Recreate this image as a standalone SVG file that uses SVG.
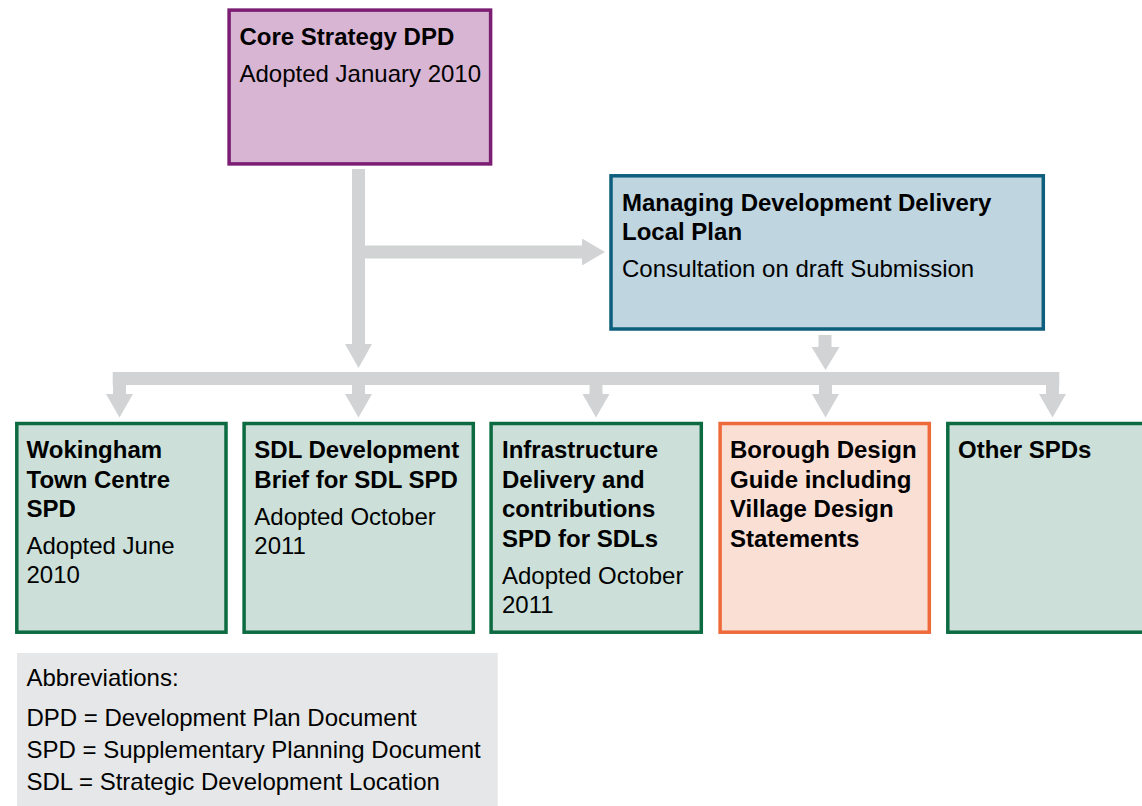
<svg xmlns="http://www.w3.org/2000/svg" xmlns:xlink="http://www.w3.org/1999/xlink" width="1142" height="806" viewBox="0 0 1142 806">
  <style>
    text { font-family: "Liberation Sans", Arial, sans-serif; font-size: 24px; fill: #000; }
    .b { font-weight: bold; }
    .box { stroke-width: 3.5; }
    .core { fill: #D8B5D3; stroke: #7B1D73; }
    .mdd { fill: #BFD5E0; stroke: #0E5E7D; }
    .spd { fill: #CCE0D9; stroke: #0D6B42; }
    .guide { fill: #FADFD5; stroke: #EF6A3A; }
    .conn { fill: #D1D3D4; }
  </style>
  <defs>
    <!-- downward block arrow, origin at top centre of the shaft -->
    <path id="down" d="M-6.5,-1 H6.5 V9 H13.5 L0,32.5 L-13.5,9 H-6.5 Z"/>
  </defs>

  <!-- connectors -->
  <g id="connectors" class="conn">
    <!-- Core Strategy: down to the bus, branch right to the Local Plan -->
    <path d="M352,169 H365 V245.5 H582 V238.5 L605,252 L582,265.5 V258.5 H365 V344 H372 L358.5,368 L345,344 H352 Z"/>
    <!-- Local Plan down to the bus -->
    <path d="M818.5,335 H831.5 V347 H839.5 L825.5,370 L811.5,347 H818.5 Z"/>
    <!-- distribution bus -->
    <rect x="112.7" y="372" width="946.6" height="13"/>
    <use xlink:href="#down" x="119.5" y="385"/>
    <use xlink:href="#down" x="358.5" y="385"/>
    <use xlink:href="#down" x="596" y="385"/>
    <use xlink:href="#down" x="825.5" y="385"/>
    <use xlink:href="#down" x="1052.5" y="385"/>
  </g>

  <g id="core-strategy">
    <rect class="box core" x="229.1" y="10.1" width="261.5" height="153.8"/>
    <text class="b" x="239.5" y="45">Core Strategy DPD</text>
    <text x="239.5" y="82">Adopted January 2010</text>
  </g>

  <g id="managing-development">
    <rect class="box mdd" x="611" y="175.8" width="432.3" height="153.2"/>
    <text class="b" x="622" y="211">Managing Development Delivery</text>
    <text class="b" x="622" y="240">Local Plan</text>
    <text x="622" y="277">Consultation on draft Submission</text>
  </g>

  <g id="wokingham-town-centre">
    <rect class="box spd" x="16.8" y="423.5" width="209.2" height="208.7"/>
    <text class="b" x="26.5" y="458">Wokingham</text>
    <text class="b" x="26.5" y="487.5">Town Centre</text>
    <text class="b" x="26.5" y="517">SPD</text>
    <text x="26.5" y="554">Adopted June</text>
    <text x="26.5" y="583">2010</text>
  </g>

  <g id="sdl-development-brief">
    <rect class="box spd" x="244.1" y="423.5" width="229.2" height="208.7"/>
    <text class="b" x="254.3" y="458">SDL Development</text>
    <text class="b" x="254.3" y="487.5">Brief for SDL SPD</text>
    <text x="254.3" y="524.5">Adopted October</text>
    <text x="254.3" y="554">2011</text>
  </g>

  <g id="infrastructure-delivery">
    <rect class="box spd" x="491.1" y="423.5" width="210.2" height="208.7"/>
    <text class="b" x="502" y="458">Infrastructure</text>
    <text class="b" x="502" y="487.5">Delivery and</text>
    <text class="b" x="502" y="517">contributions</text>
    <text class="b" x="502" y="546.5">SPD for SDLs</text>
    <text x="502" y="583.5">Adopted October</text>
    <text x="502" y="613">2011</text>
  </g>

  <g id="borough-design-guide">
    <rect class="box guide" x="720.1" y="423.5" width="209.2" height="208.7"/>
    <text class="b" x="730" y="458">Borough Design</text>
    <text class="b" x="730" y="487.5">Guide including</text>
    <text class="b" x="730" y="517">Village Design</text>
    <text class="b" x="730" y="546.5">Statements</text>
  </g>

  <g id="other-spds">
    <rect class="box spd" x="947.8" y="423.5" width="210" height="208.7"/>
    <text class="b" x="958" y="458">Other SPDs</text>
  </g>

  <g id="abbreviations">
    <rect x="17" y="653" width="480.7" height="160" fill="#E6E7E8"/>
    <text x="26.5" y="686">Abbreviations:</text>
    <text x="26.5" y="726">DPD = Development Plan Document</text>
    <text x="26.5" y="758">SPD = Supplementary Planning Document</text>
    <text x="26.5" y="790">SDL = Strategic Development Location</text>
  </g>
</svg>
